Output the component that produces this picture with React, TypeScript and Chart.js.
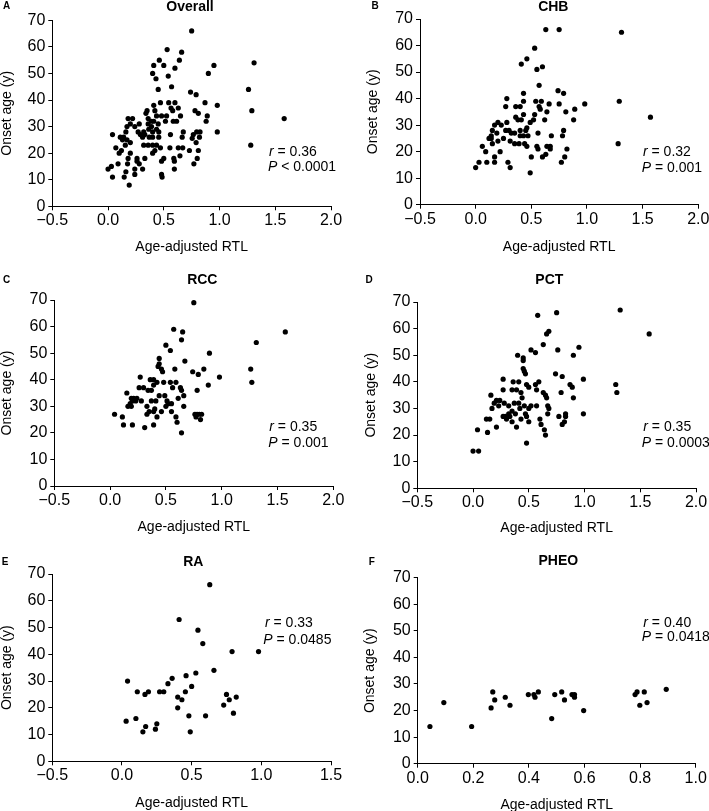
import React, { useEffect, useRef } from "react";
import { Chart, registerables } from "chart.js";
Chart.register(...registerables);

type Pt = [number, number];

const FONT = '"Liberation Sans", Arial, Helvetica, sans-serif';

// ---------------- DATA ----------------
const overallPoints: Pt[] = [
  [0.0, 14], [0.04, 27], [0.03, 15], [0.04, 11], [0.07, 22], [0.1, 20], [0.09, 16], [0.11, 26], [0.12, 21], [0.13, 25],
  [0.14, 26], [0.16, 28], [0.17, 30], [0.17, 25], [0.18, 33], [0.2, 31], [0.22, 33], [0.24, 30], [0.2, 24], [0.155, 23],
  [0.2, 20], [0.18, 18], [0.175, 16], [0.16, 13], [0.145, 11], [0.19, 8], [0.24, 14], [0.24, 12], [0.26, 17], [0.28, 16],
  [0.26, 18], [0.27, 28], [0.28, 31], [0.29, 27], [0.31, 26], [0.32, 28], [0.33, 27], [0.32, 23], [0.31, 14], [0.33, 18],
  [0.34, 35], [0.35, 36], [0.36, 33], [0.36, 31], [0.365, 29], [0.37, 26], [0.36, 23], [0.39, 32], [0.39, 30], [0.4, 28],
  [0.4, 26], [0.4, 23], [0.4, 20], [0.41, 32], [0.41, 38], [0.42, 36], [0.42, 21], [0.435, 34], [0.435, 29], [0.455, 28],
  [0.455, 26], [0.435, 23], [0.45, 31], [0.47, 22], [0.47, 39], [0.48, 34], [0.48, 17], [0.5, 18], [0.48, 12], [0.485, 11],
  [0.4, 50], [0.41, 53], [0.43, 48], [0.45, 44], [0.46, 55], [0.5, 53], [0.53, 59], [0.54, 49], [0.57, 45], [0.6, 52],
  [0.64, 55], [0.66, 58], [0.75, 66], [0.515, 32], [0.525, 34], [0.544, 39], [0.565, 37], [0.58, 36], [0.6, 39], [0.63, 37],
  [0.585, 32], [0.615, 32], [0.65, 34], [0.56, 27], [0.555, 22], [0.59, 18], [0.595, 17], [0.595, 14], [0.63, 22], [0.67, 22],
  [0.645, 19], [0.665, 26], [0.675, 28], [0.73, 21], [0.74, 43], [0.79, 42], [0.78, 36], [0.81, 35], [0.755, 25.6], [0.765, 27],
  [0.795, 28], [0.825, 28], [0.82, 26], [0.79, 24], [0.81, 21], [0.8, 18], [0.77, 16], [0.87, 39], [0.89, 34], [0.88, 32],
  [0.9, 50], [0.95, 53], [0.98, 38], [0.98, 28], [1.26, 44], [1.29, 36], [1.28, 23], [1.31, 54], [1.58, 33],
];

const chbPoints: Pt[] = [
  [0.0, 14], [0.03, 16], [0.1, 16], [0.06, 22], [0.09, 20], [0.12, 25], [0.14, 25], [0.15, 28], [0.14, 26], [0.15, 23],
  [0.17, 30], [0.19, 27], [0.2, 24], [0.17, 18], [0.17, 16], [0.2, 31], [0.23, 30], [0.22, 20], [0.25, 25], [0.27, 37],
  [0.28, 40], [0.28, 31], [0.27, 28], [0.3, 28], [0.29, 16], [0.31, 14], [0.31, 24], [0.32, 27], [0.35, 27], [0.35, 23],
  [0.36, 33], [0.36, 37], [0.38, 32], [0.39, 23], [0.4, 37], [0.4, 28], [0.4, 26], [0.41, 53], [0.41, 32], [0.43, 42],
  [0.43, 39], [0.43, 34], [0.43, 26], [0.44, 23], [0.46, 29], [0.46, 55], [0.45, 28], [0.47, 26], [0.46, 22], [0.49, 31],
  [0.49, 12], [0.5, 18], [0.52, 32], [0.53, 59], [0.55, 51], [0.54, 39], [0.53, 34], [0.55, 22], [0.56, 21], [0.56, 27],
  [0.57, 45], [0.57, 37], [0.58, 36], [0.59, 39], [0.6, 52], [0.6, 18], [0.62, 32], [0.63, 66], [0.63, 19], [0.64, 35],
  [0.64, 22], [0.66, 38], [0.67, 22], [0.67, 21], [0.68, 26], [0.74, 43], [0.75, 38], [0.75, 66], [0.77, 16], [0.78, 26],
  [0.79, 42], [0.79, 28], [0.8, 18], [0.81, 35], [0.82, 21], [0.89, 36], [0.88, 32], [0.98, 38], [1.29, 39], [1.28, 23],
  [1.31, 65], [1.57, 33],
];

const rccPoints: Pt[] = [
  [0.04, 27], [0.11, 26], [0.12, 23], [0.2, 23], [0.15, 35], [0.16, 30], [0.18, 31], [0.19, 30], [0.19, 33], [0.2, 32],
  [0.21, 33], [0.23, 32], [0.24, 33], [0.26, 37], [0.27, 41], [0.28, 32], [0.3, 37], [0.31, 22], [0.33, 30], [0.34, 36],
  [0.33, 27], [0.35, 28], [0.36, 40], [0.37, 32], [0.37, 36], [0.39, 38], [0.39, 28], [0.39, 23], [0.39, 40], [0.41, 32],
  [0.4, 29], [0.42, 39], [0.42, 26], [0.43, 45], [0.44, 48], [0.44, 34], [0.44, 46], [0.46, 44], [0.47, 43], [0.46, 28],
  [0.48, 39], [0.49, 34], [0.5, 30], [0.5, 53], [0.51, 32], [0.52, 31], [0.54, 51], [0.54, 39], [0.55, 31], [0.55, 28],
  [0.56, 37], [0.57, 59], [0.58, 44], [0.59, 39], [0.59, 26], [0.6, 24], [0.61, 33], [0.63, 37], [0.64, 36], [0.64, 55],
  [0.64, 20], [0.65, 58], [0.66, 34], [0.66, 30], [0.67, 47], [0.75, 69], [0.74, 43], [0.76, 27], [0.77, 26], [0.78, 36],
  [0.79, 42], [0.78, 27], [0.8, 27], [0.81, 25], [0.82, 27], [0.84, 44], [0.88, 38], [0.89, 50], [0.98, 41], [1.26, 44],
  [1.27, 39], [1.31, 54], [1.57, 58],
];

const pctPoints: Pt[] = [
  [0.0, 14], [0.05, 14], [0.04, 22], [0.13, 21], [0.12, 26], [0.15, 26], [0.16, 35], [0.17, 30], [0.19, 32], [0.21, 23],
  [0.21, 33], [0.23, 31], [0.24, 33], [0.27, 37], [0.27, 41], [0.27, 27], [0.28, 32], [0.29, 27], [0.3, 26], [0.32, 28],
  [0.32, 31], [0.33, 27], [0.35, 37], [0.35, 25], [0.35, 29], [0.36, 40], [0.37, 32], [0.38, 28], [0.39, 37], [0.39, 23],
  [0.41, 40], [0.41, 32], [0.4, 50], [0.42, 30], [0.43, 36], [0.43, 26], [0.44, 34], [0.45, 49], [0.45, 48], [0.45, 45],
  [0.46, 44], [0.47, 43], [0.46, 31], [0.47, 28], [0.48, 27], [0.48, 17], [0.48, 39], [0.5, 38], [0.5, 30], [0.5, 25],
  [0.52, 31], [0.52, 52], [0.56, 51], [0.57, 31], [0.56, 39], [0.58, 65], [0.59, 40], [0.57, 37], [0.6, 26], [0.61, 24],
  [0.63, 54], [0.63, 36], [0.65, 35], [0.64, 22], [0.65, 20], [0.66, 34], [0.66, 58], [0.68, 59], [0.67, 31], [0.68, 30],
  [0.67, 28], [0.75, 66], [0.76, 52], [0.74, 43], [0.77, 27], [0.79, 36], [0.8, 42], [0.8, 24], [0.82, 25], [0.83, 27],
  [0.83, 28], [0.95, 53], [0.9, 50], [0.87, 39], [0.89, 38], [0.9, 34], [0.99, 41], [0.99, 28], [1.28, 39], [1.29, 36],
  [1.32, 67], [1.58, 58],
];

const raPoints: Pt[] = [
  [0.03, 15], [0.04, 30], [0.1, 16], [0.11, 26], [0.15, 11], [0.165, 25], [0.17, 13], [0.19, 26], [0.24, 12], [0.25, 14],
  [0.27, 26], [0.3, 26], [0.33, 29], [0.36, 31], [0.4, 24], [0.4, 20], [0.41, 53], [0.43, 23], [0.455, 26], [0.46, 32],
  [0.48, 17], [0.49, 11], [0.5, 28], [0.53, 33], [0.545, 49], [0.58, 44], [0.6, 17], [0.63, 66], [0.66, 34], [0.73, 21],
  [0.75, 25], [0.77, 23], [0.79, 41], [0.8, 18], [0.82, 24], [0.98, 41],
];

const pheoPoints: Pt[] = [
  [0.044, 14], [0.094, 23], [0.194, 14], [0.264, 21], [0.27, 27], [0.277, 24], [0.315, 25], [0.332, 22], [0.398, 26],
  [0.418, 26], [0.422, 25], [0.434, 27], [0.482, 17], [0.493, 26], [0.518, 27], [0.528, 24], [0.555, 26], [0.564, 26],
  [0.564, 25], [0.597, 20], [0.782, 26], [0.789, 27], [0.799, 22], [0.815, 27], [0.825, 23], [0.894, 28],
];

const panelLetters = ["A", "B", "C", "D", "E", "F"];
const panelTitles = ["Overall", "CHB", "RCC", "PCT", "RA", "PHEO"];
const rValues = ["0.36", "0.32", "0.35", "0.35", "0.33", "0.40"];
const pValues = ["< 0.0001", "= 0.001", "= 0.001", "= 0.0003", "= 0.0485", "= 0.0418"];
const panelData: Pt[][] = [overallPoints, chbPoints, rccPoints, pctPoints, raPoints, pheoPoints];
// x-axis ranges [min, max, step]
const xRanges: [number, number, number][] = [
  [-0.5, 2.0, 0.5], [-0.5, 2.0, 0.5], [-0.5, 2.0, 0.5], [-0.5, 2.0, 0.5], [-0.5, 1.5, 0.5], [0.0, 1.0, 0.2],
];
const yRange: [number, number, number] = [0, 70, 10];
const xAxisTitle = "Age-adjusted RTL";
const yAxisTitle = "Onset age (y)";

// ---------------- LAYOUT (pixels, relative to each canvas) ----------------
interface Layout {
  ox: number; oy: number; w: number; h: number;
  l: number; t: number; r: number; b: number;
  yTitleX: number; xTitleY: number;
  titleX: number; titleY: number; letterX: number; letterY: number;
  rX: number; rY: number; pX: number; pY: number;
}
const layouts: Layout[] = [
  { ox: 0, oy: 0, w: 355, h: 270, l: 52.3, t: 20.3, r: 331, b: 206.3, yTitleX: 7.3, xTitleY: 246.7, titleX: 190, titleY: 7.3, letterX: 6.7, letterY: 6.7, rX: 269, rY: 151.7, pX: 268, pY: 166.7 },
  { ox: 355, oy: 0, w: 354, h: 270, l: 65, t: 19, r: 343.3, b: 204.7, yTitleX: 18.3, xTitleY: 246.7, titleX: 198.3, titleY: 6.7, letterX: 20, letterY: 6, rX: 288, rY: 151.7, pX: 286.7, pY: 167.7 },
  { ox: 0, oy: 270, w: 355, h: 270, l: 54.3, t: 30, r: 333.3, b: 216, yTitleX: 6.7, xTitleY: 256.7, titleX: 202.3, titleY: 10, letterX: 6.7, letterY: 10, rX: 269.3, rY: 156.7, pX: 268.3, pY: 173.3 },
  { ox: 355, oy: 270, w: 354, h: 270, l: 62.3, t: 32, r: 341, b: 218.3, yTitleX: 15.7, xTitleY: 258.3, titleX: 194.3, titleY: 10, letterX: 14, letterY: 10, rX: 288.3, rY: 156.7, pX: 286.7, pY: 172.7 },
  { ox: 0, oy: 540, w: 355, h: 271, l: 52.3, t: 34, r: 331, b: 221.3, yTitleX: 6.7, xTitleY: 263.3, titleX: 193.3, titleY: 21.7, letterX: 5, letterY: 22.7, rX: 265, rY: 83.3, pX: 263.3, pY: 100 },
  { ox: 355, oy: 540, w: 354, h: 271, l: 62.7, t: 37.7, r: 340.7, b: 223.7, yTitleX: 15, xTitleY: 265, titleX: 203.3, titleY: 20.7, letterX: 16.7, letterY: 22.7, rX: 288.3, rY: 82.7, pX: 286.7, pY: 96.7 },
];

const fmtTick = (v: number, digits: number) => {
  const s = Math.abs(v) < 1e-9 ? (0).toFixed(digits) : v.toFixed(digits);
  return s.replace("-", "\u2212");
};

const panelTextPlugin = {
  id: "panelText",
  afterDraw(chart: any, _args: any, opts: any) {
    const ctx = chart.ctx as CanvasRenderingContext2D;
    const L: Layout = opts.layout;
    ctx.save();
    ctx.fillStyle = "#000";
    ctx.textBaseline = "middle";
    ctx.textAlign = "center";
    ctx.font = `bold 10px ${FONT}`;
    ctx.fillText(opts.letter, L.letterX, L.letterY);
    ctx.font = `bold 14px ${FONT}`;
    ctx.fillText(opts.title, L.titleX, L.titleY);
    ctx.textAlign = "left";
    const drawStat = (sym: string, rest: string, x: number, y: number) => {
      ctx.font = `italic 14px ${FONT}`;
      ctx.fillText(sym, x, y);
      const w = ctx.measureText(sym).width;
      ctx.font = `14px ${FONT}`;
      ctx.fillText(" " + rest, x + w, y);
    };
    drawStat("r", "= " + opts.r, L.rX, L.rY);
    drawStat("P", opts.p, L.pX, L.pY);
    ctx.restore();
  },
};

function Panel({ idx }: { idx: number }) {
  const ref = useRef<HTMLCanvasElement>(null);
  const L = layouts[idx];
  useEffect(() => {
    const canvas = ref.current;
    if (!canvas) return;
    const TL = 14; // axis title line height (font 14, lineHeight 1)
    const padLeft = L.yTitleX - TL / 2;
    const yW = L.l - padLeft;
    const padBottom = L.h - L.xTitleY - TL / 2;
    const xH = L.h - padBottom - L.b;
    const [xmin, xmax, xstep] = xRanges[idx];
    const tickFont = { family: FONT, size: 16 };
    const titleFont = { family: FONT, size: 14, lineHeight: 1 };
    const grid = { display: true, drawOnChartArea: false, drawTicks: true, tickLength: 4, color: "#000", lineWidth: 1 };
    const border = { display: true, color: "#000", width: 1 };
    const chart = new Chart(canvas, {
      type: "scatter",
      data: {
        datasets: [
          {
            data: panelData[idx].map(([x, y]) => ({ x, y })),
            pointRadius: 2.6,
            pointHoverRadius: 2.6,
            pointBackgroundColor: "#000",
            pointBorderWidth: 0,
            pointBorderColor: "#000",
          },
        ],
      },
      options: {
        responsive: false,
        animation: false,
        devicePixelRatio: 1,
        events: [],
        layout: { padding: { left: padLeft, top: L.t, right: L.w - L.r, bottom: padBottom } },
        plugins: {
          legend: { display: false },
          tooltip: { enabled: false },
          panelText: { layout: L, letter: panelLetters[idx], title: panelTitles[idx], r: rValues[idx], p: pValues[idx] },
        } as any,
        scales: {
          x: {
            type: "linear",
            min: xmin,
            max: xmax,
            ticks: {
              stepSize: xstep,
              autoSkip: false,
              maxRotation: 0,
              padding: 1,
              color: "#000",
              font: tickFont,
              callback: (v: any) => fmtTick(Number(v), 1),
            },
            grid,
            border,
            title: { display: true, text: xAxisTitle, color: "#000", font: titleFont, padding: 0 },
            afterFit: (s: any) => {
              s.height = xH;
              s.paddingLeft = 0;
              s.paddingRight = 0;
            },
          },
          y: {
            type: "linear",
            min: yRange[0],
            max: yRange[1],
            ticks: {
              stepSize: yRange[2],
              autoSkip: false,
              padding: 3,
              color: "#000",
              font: tickFont,
              callback: (v: any) => fmtTick(Number(v), 0),
            },
            grid,
            border,
            title: { display: true, text: yAxisTitle, color: "#000", font: titleFont, padding: 0 },
            afterFit: (s: any) => {
              s.width = yW;
              s.paddingTop = 0;
              s.paddingBottom = 0;
            },
          },
        },
      } as any,
      plugins: [panelTextPlugin as any],
    });
    return () => chart.destroy();
  }, [idx]);
  return (
    <canvas
      ref={ref}
      width={L.w}
      height={L.h}
      style={{ position: "absolute", left: L.ox, top: L.oy, width: L.w, height: L.h }}
    />
  );
}

export default function App() {
  return (
    <div style={{ position: "absolute", left: 0, top: 0, width: 709, height: 811, background: "#fff" }}>
      {layouts.map((_, i) => (
        <Panel key={i} idx={i} />
      ))}
    </div>
  );
}
